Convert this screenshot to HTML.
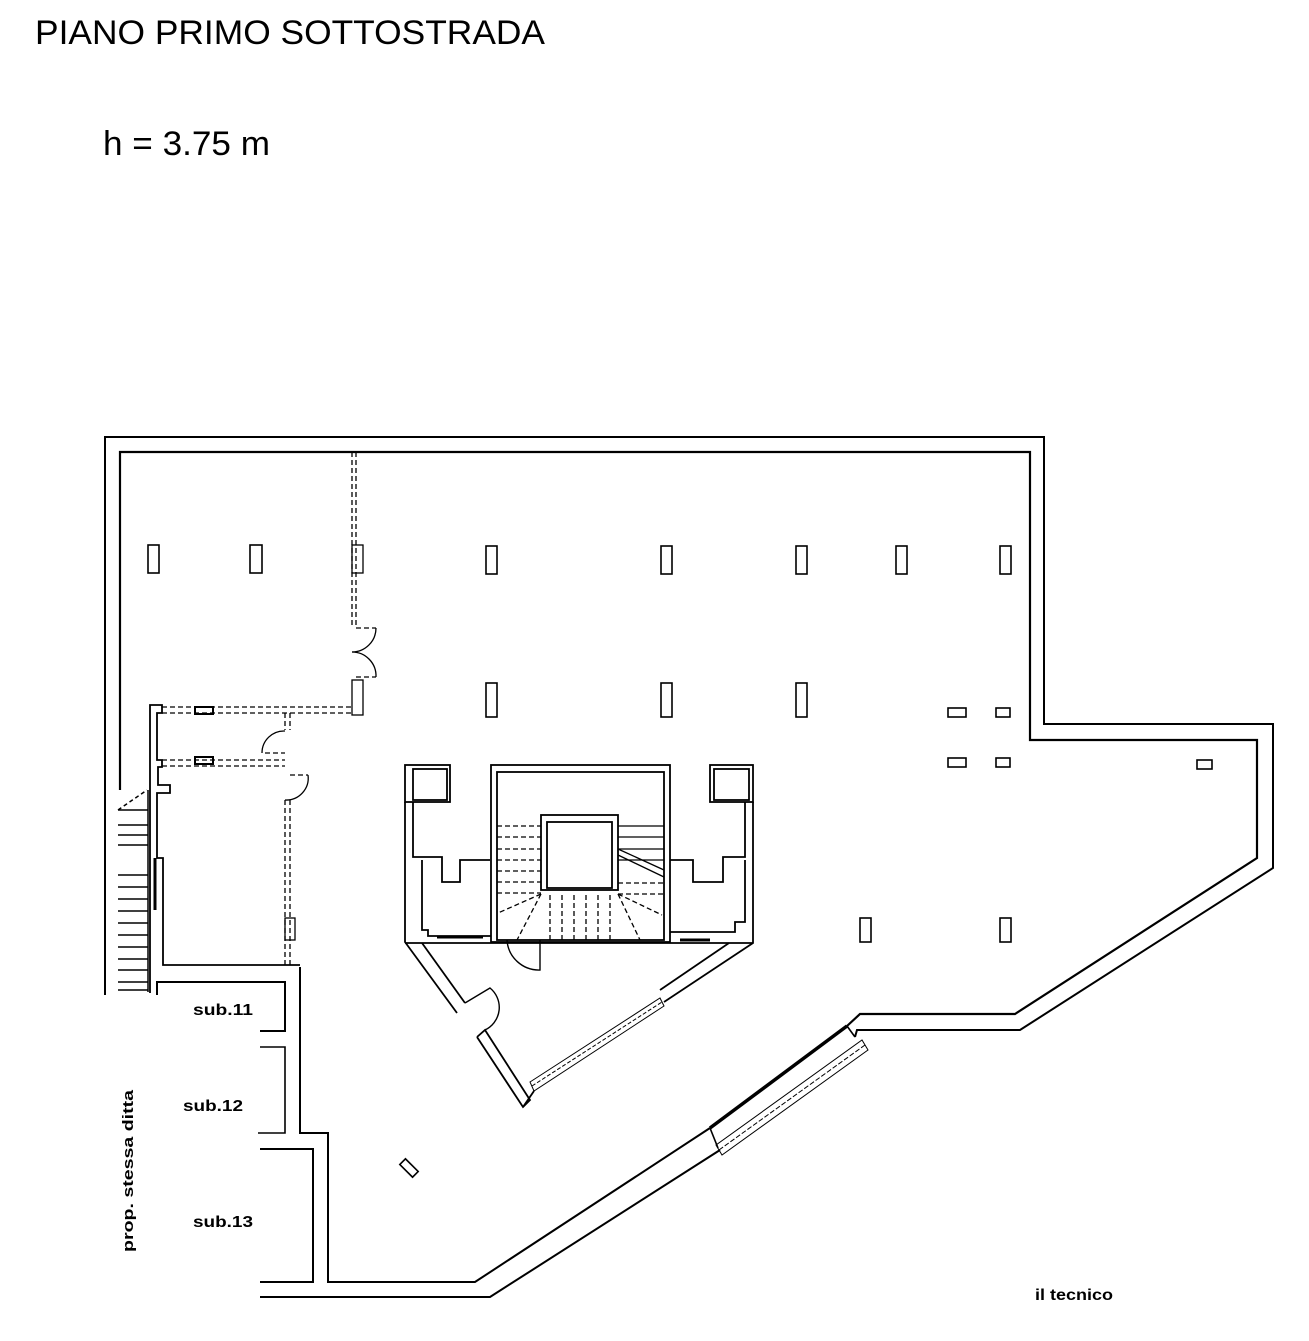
<!DOCTYPE html>
<html><head><meta charset="utf-8"><style>
html,body{margin:0;padding:0;background:#fff;}
svg{display:block;}
text{font-family:"Liberation Sans",Arial,sans-serif;fill:#000;}
</style></head><body>
<svg width="1309" height="1341" viewBox="0 0 1309 1341" xmlns="http://www.w3.org/2000/svg">
<text x="35" y="44" font-size="34" textLength="510" lengthAdjust="spacingAndGlyphs">PIANO PRIMO SOTTOSTRADA</text>
<text x="103" y="155" font-size="34" textLength="167" lengthAdjust="spacingAndGlyphs">h = 3.75 m</text>

<g fill="none" stroke="#000" stroke-width="1.6">
<polyline points="105,995 105,437 1044,437 1044,724 1273,724 1273,868 1020,1030 857,1030 855,1037" stroke-width="2"/>
<polyline points="720,1150 490,1297 260,1297" stroke-width="2"/>
<polyline points="120,790 120,452 1030,452 1030,740 1257,740 1257,858 1015,1014 860,1014 847,1026" stroke-width="2.2"/>
<polyline points="847,1026 710,1128" stroke-width="3.5"/>
<polyline points="710,1128 475,1282 328,1282 328,1133 300,1133 300,967" stroke-width="2"/>
<line x1="710" y1="1128" x2="718" y2="1148"/>
<line x1="847" y1="1026" x2="855" y2="1037"/>
<g stroke-width="1">
<polygon points="716,1145 862,1040 868,1050 722,1155"/>
<line x1="719" y1="1150" x2="865" y2="1045" stroke-dasharray="5,2"/>
</g>

<polyline points="157,995 157,982 285,982 285,1031 260,1031" stroke-width="2"/>
<polyline points="260,1047 285,1047 285,1133 258,1133" stroke-width="1.6"/>
<polyline points="260,1149 313,1149 313,1282 260,1282" stroke-width="2"/>

<g stroke-width="1.5">
<line x1="118" y1="810" x2="148" y2="810"/>
<line x1="118" y1="825" x2="148" y2="825"/>
<line x1="118" y1="835" x2="148" y2="835"/>
<line x1="118" y1="845" x2="148" y2="845"/>
<line x1="118" y1="875" x2="148" y2="875"/>
<line x1="118" y1="887" x2="148" y2="887"/>
<line x1="118" y1="899" x2="148" y2="899"/>
<line x1="118" y1="911" x2="148" y2="911"/>
<line x1="118" y1="923" x2="148" y2="923"/>
<line x1="118" y1="935" x2="148" y2="935"/>
<line x1="118" y1="947" x2="148" y2="947"/>
<line x1="118" y1="959" x2="148" y2="959"/>
<line x1="118" y1="970" x2="148" y2="970"/>
<line x1="118" y1="982" x2="148" y2="982"/>
<line x1="118" y1="990" x2="148" y2="990"/>
<line x1="118" y1="810" x2="147" y2="790" stroke-dasharray="4,3"/>
<line x1="148" y1="790" x2="148" y2="992"/>
</g>
<polyline points="150,993 150,705 162,705 162,713 157,713 157,760 162,760 162,767 158,767 158,785 170,785 170,793 157,793 157,858 163,858 163,965 300,965" stroke-width="1.8"/>
<line x1="155" y1="858" x2="155" y2="910" stroke-width="3"/>
<g stroke-dasharray="5,3" stroke-width="1.3">
<line x1="162" y1="707" x2="352" y2="707"/><line x1="162" y1="713" x2="352" y2="713"/>
<line x1="162" y1="760" x2="285" y2="760"/><line x1="162" y1="766" x2="285" y2="766"/>
<line x1="285" y1="713" x2="285" y2="730"/><line x1="290" y1="713" x2="290" y2="730"/>
<line x1="285" y1="800" x2="285" y2="965"/><line x1="290" y1="800" x2="290" y2="965"/>
<line x1="352" y1="452" x2="352" y2="628"/><line x1="356" y1="452" x2="356" y2="628"/>
<line x1="265" y1="753" x2="285" y2="753"/><line x1="290" y1="775" x2="308" y2="775"/>
<line x1="356" y1="628" x2="376" y2="628"/><line x1="356" y1="677" x2="376" y2="677"/>
</g>
<rect x="195" y="707" width="18" height="7" stroke-width="2"/>
<rect x="195" y="757" width="18" height="7" stroke-width="2"/>
<rect x="285" y="918" width="10" height="22" stroke-width="1.3"/>
<path d="M262,753 A22,22 0 0 1 285,731" stroke-width="1.3"/>
<path d="M285,800 A22,22 0 0 0 308,775" stroke-width="1.3"/>
<path d="M352,652 A24,24 0 0 0 376,628" stroke-width="1.3"/>
<path d="M352,652 A24,24 0 0 1 376,677" stroke-width="1.3"/>
<rect x="352" y="680" width="11" height="35" stroke-width="1.3"/>
<rect x="352" y="545" width="11" height="28" stroke-width="1.3"/>

<g stroke-width="1.6">
<rect x="148" y="545" width="11" height="28"/>
<rect x="250" y="545" width="12" height="28"/>
<rect x="486" y="546" width="11" height="28"/>
<rect x="661" y="546" width="11" height="28"/>
<rect x="796" y="546" width="11" height="28"/>
<rect x="896" y="546" width="11" height="28"/>
<rect x="1000" y="546" width="11" height="28"/>
<rect x="486" y="683" width="11" height="34"/>
<rect x="661" y="683" width="11" height="34"/>
<rect x="796" y="683" width="11" height="34"/>
<rect x="948" y="708" width="18" height="9"/>
<rect x="996" y="708" width="14" height="9"/>
<rect x="948" y="758" width="18" height="9"/>
<rect x="996" y="758" width="14" height="9"/>
<rect x="1197" y="760" width="15" height="9"/>
<rect x="860" y="918" width="11" height="24"/>
<rect x="1000" y="918" width="11" height="24"/>
<rect x="400" y="1164" width="18" height="8" transform="rotate(45 409 1168)"/>
</g>

<g stroke-width="1.8">
<rect x="405" y="765" width="45" height="37"/>
<rect x="413" y="769" width="34" height="31"/>
<polyline points="405,802 405,942 457,1013"/>
<polyline points="413,802 413,857 442,857 442,882 460,882 460,860 490,860"/>
<polyline points="422,860 422,930 428,930 428,936 491,936"/>
<line x1="437" y1="937" x2="483" y2="937" stroke-width="3"/>
<polyline points="422,943 465,1003"/>
<path d="M465,1003 L490,988 A25,25 0 0 1 485,1030" stroke-width="1.4"/>
<polyline points="477,1037 485,1030 530,1100 523,1107 477,1037"/>
<polyline points="405,943 753,943"/>
<rect x="710" y="765" width="43" height="37"/>
<rect x="714" y="769" width="35" height="31"/>
<polyline points="753,802 753,943 664,1002"/>
<polyline points="729,943 660,990"/>
<polyline points="534,1091 523,1107"/>
<polyline points="745,802 745,857 723,857 723,882 693,882 693,860 670,860"/>
<polyline points="745,860 745,922 735,922 735,932 670,932"/>
<line x1="680" y1="940" x2="710" y2="940" stroke-width="3"/>
<rect x="491" y="765" width="179" height="177"/>
<rect x="497" y="772" width="167" height="168"/>
<rect x="541" y="815" width="77" height="75"/>
<rect x="547" y="822" width="65" height="66"/>
<path d="M507,940 A32,32 0 0 0 540,970 L540,940" stroke-width="1.4"/>
</g>
<g stroke-width="1.3" stroke-dasharray="5,3">
<line x1="497" y1="826" x2="541" y2="826"/><line x1="497" y1="837" x2="541" y2="837"/>
<line x1="497" y1="849" x2="541" y2="849"/><line x1="497" y1="860" x2="541" y2="860"/>
<line x1="497" y1="871" x2="541" y2="871"/><line x1="497" y1="882" x2="541" y2="882"/>
<line x1="497" y1="893" x2="541" y2="893"/>
<line x1="541" y1="894" x2="498" y2="913"/><line x1="541" y1="894" x2="517" y2="940"/>
<line x1="550" y1="895" x2="550" y2="940"/><line x1="562" y1="895" x2="562" y2="940"/>
<line x1="574" y1="895" x2="574" y2="940"/><line x1="586" y1="895" x2="586" y2="940"/>
<line x1="598" y1="895" x2="598" y2="940"/><line x1="610" y1="895" x2="610" y2="940"/>
<line x1="618" y1="894" x2="640" y2="940"/><line x1="618" y1="894" x2="662" y2="915"/>
<line x1="618" y1="883" x2="664" y2="883"/><line x1="618" y1="894" x2="664" y2="894"/>
</g>
<g stroke-width="1.3">
<line x1="618" y1="826" x2="664" y2="826"/><line x1="618" y1="837" x2="664" y2="837"/>
<line x1="618" y1="849" x2="664" y2="849"/><line x1="618" y1="860" x2="664" y2="860"/>
<line x1="618" y1="855" x2="664" y2="877"/><line x1="618" y1="849" x2="664" y2="870"/>
</g>
<g stroke-width="1">
<polygon points="530,1082 660,998 664,1006 534,1091"/>
<line x1="532" y1="1086" x2="662" y2="1002" stroke-dasharray="4,2"/>
</g>
</g>

<text x="193" y="1015" font-size="16" font-weight="bold" textLength="60" lengthAdjust="spacingAndGlyphs">sub.11</text>
<text x="183" y="1111" font-size="16" font-weight="bold" textLength="60" lengthAdjust="spacingAndGlyphs">sub.12</text>
<text x="193" y="1227" font-size="16" font-weight="bold" textLength="60" lengthAdjust="spacingAndGlyphs">sub.13</text>
<text transform="translate(133,1252) rotate(-90)" font-size="15" font-weight="bold" textLength="162" lengthAdjust="spacingAndGlyphs">prop. stessa ditta</text>
<text x="1035" y="1300" font-size="16" font-weight="bold" textLength="78" lengthAdjust="spacingAndGlyphs">il tecnico</text>
</svg>
</body></html>
